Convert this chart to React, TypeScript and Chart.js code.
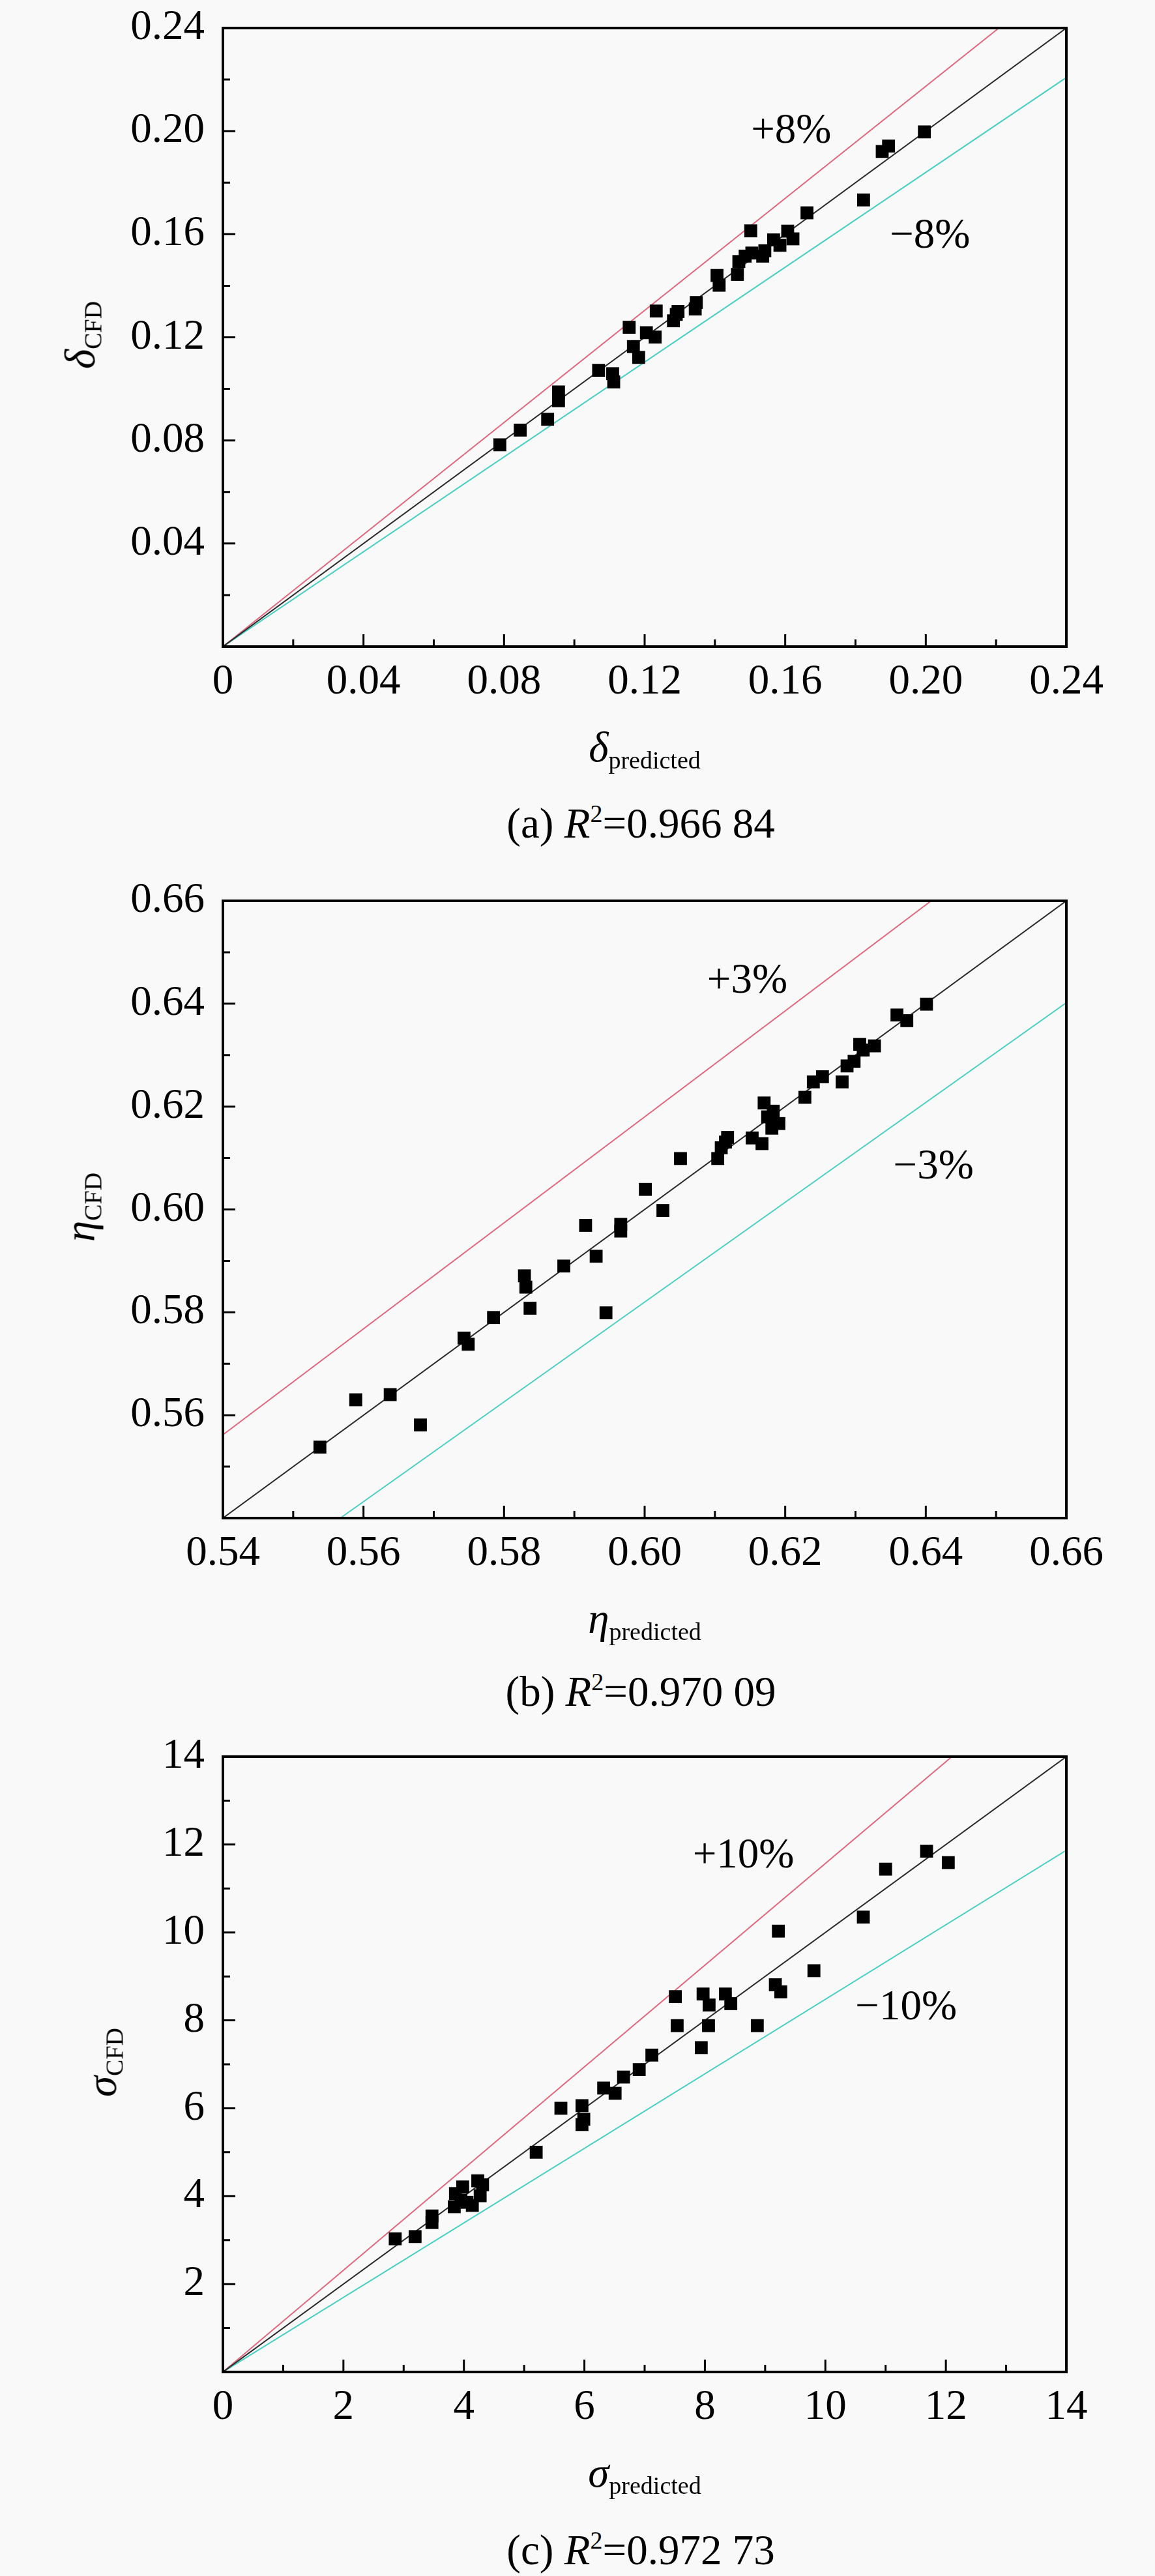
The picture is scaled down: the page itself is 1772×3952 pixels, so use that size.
import React, { useEffect, useRef } from "react";
import { Chart, registerables } from "chart.js";

Chart.register(...registerables);

// (a) film thickness delta
const deltaPredicted = [
  0.0788, 0.0846, 0.0924, 0.0955, 0.0955, 0.1069, 0.1109, 0.1112, 0.1156, 0.1168, 0.1183, 0.1205, 0.123,
  0.1233, 0.1282, 0.129, 0.1295, 0.1347, 0.1344, 0.1406, 0.1412, 0.1464, 0.1468, 0.1486, 0.1502, 0.1505,
  0.1536, 0.1542, 0.1567, 0.1585, 0.1607, 0.1622, 0.1662, 0.1823, 0.1876, 0.1894, 0.1996,
];
const deltaCFD = [
  0.0783, 0.084, 0.0882, 0.0988, 0.0954, 0.1072, 0.1059, 0.1027, 0.1239, 0.1164, 0.1122, 0.1218, 0.1201,
  0.1302, 0.1264, 0.1289, 0.13, 0.1335, 0.131, 0.144, 0.1402, 0.1444, 0.1494, 0.1515, 0.1613, 0.1527,
  0.1515, 0.1536, 0.1578, 0.1557, 0.1612, 0.1582, 0.1683, 0.1733, 0.1921, 0.1942, 0.1997,
];

// (b) efficiency eta
const etaPredicted = [
  0.5538, 0.5589, 0.5638, 0.5681, 0.5743, 0.5749, 0.5785, 0.5829, 0.5831, 0.5837, 0.5885, 0.5916, 0.5931,
  0.5945, 0.5966, 0.5966, 0.6001, 0.6026, 0.6051, 0.6104, 0.6109, 0.6115, 0.6118, 0.6153, 0.6167, 0.617,
  0.6175, 0.6183, 0.6181, 0.6191, 0.6228, 0.624, 0.6253, 0.6281, 0.6288, 0.6298, 0.6306, 0.6311, 0.6327,
  0.6359, 0.6373, 0.6401,
];
const etaCFD = [
  0.5538, 0.563, 0.564, 0.5581, 0.575, 0.5738, 0.579, 0.5871, 0.5849, 0.5808, 0.589, 0.5969, 0.5909,
  0.5799, 0.5971, 0.5958, 0.6039, 0.5998, 0.6099, 0.6099, 0.612, 0.6131, 0.614, 0.6139, 0.6128, 0.6207,
  0.618, 0.6191, 0.6158, 0.6167, 0.6218, 0.6248, 0.6258, 0.6248, 0.6279, 0.6288, 0.6321, 0.631, 0.6318,
  0.6378, 0.6367, 0.6399,
];

// (c) sigma
const sigmaPredicted = [
  2.86, 3.19, 3.47, 3.47, 3.84, 3.86, 3.95, 3.98, 4.05, 4.14, 4.23, 4.27, 4.31, 5.2, 5.61, 5.96, 5.96, 5.99,
  6.32, 6.51, 6.65, 6.91, 7.12, 7.51, 7.54, 7.94, 7.97, 8.06, 8.07, 8.34, 8.43, 8.87, 9.17, 9.26, 9.22, 9.81,
  10.63, 11.0, 11.68, 12.04,
];
const sigmaCFD = [
  3.03, 3.08, 3.55, 3.4, 3.76, 4.06, 3.91, 4.21, 3.86, 3.79, 4.35, 4.01, 4.26, 5.0, 6.0, 6.06, 5.63, 5.75,
  6.46, 6.34, 6.71, 6.88, 7.21, 8.54, 7.88, 7.38, 8.6, 7.88, 8.35, 8.6, 8.38, 7.88, 8.81, 8.65, 10.03, 9.13,
  10.35, 11.44, 11.85, 11.59,
];

const deltaTicks = [0, 0.04, 0.08, 0.12, 0.16, 0.2, 0.24];
const etaTicks = [0.54, 0.56, 0.58, 0.6, 0.62, 0.64, 0.66];
const sigmaTicks = [0, 2, 4, 6, 8, 10, 12, 14];

const BG = "#f9f9f9";
const SERIF = "'Liberation Serif', 'Times New Roman', serif";
const W = 1772;
const PLOT_LEFT = 342;
const PLOT_RIGHT = 1636;
const PAD_TOP = 60;
const X_AXIS_H = 150;

type Panel = {
  letter: string;
  symbol: string;
  r2: string;
  xs: number[];
  ys: number[];
  ticks: number[];
  decimals: number;
  upper: number;
  lower: number;
  upperText: string;
  lowerText: string;
  upperAt: [number, number];
  lowerAt: [number, number];
  plotTop: number;
  plotHeight: number;
  yTitleBase: number;
  captionBase: number;
};

const panels: Panel[] = [
  {
    letter: "a", symbol: "δ", r2: "0.966 84",
    xs: deltaPredicted, ys: deltaCFD, ticks: deltaTicks, decimals: 2,
    upper: 1.087, lower: 0.92, upperText: "+8%", lowerText: "\u22128%",
    upperAt: [0.1617, 0.1997], lowerAt: [0.2012, 0.1591],
    plotTop: 36, plotHeight: 956, yTitleBase: 145, captionBase: 1285,
  },
  {
    letter: "b", symbol: "η", r2: "0.970 09",
    xs: etaPredicted, ys: etaCFD, ticks: etaTicks, decimals: 2,
    upper: 1.03, lower: 0.97, upperText: "+3%", lowerText: "\u22123%",
    upperAt: [0.6146, 0.6443], lowerAt: [0.6411, 0.6082],
    plotTop: 1375, plotHeight: 954, yTitleBase: 145, captionBase: 2617,
  },
  {
    letter: "c", symbol: "σ", r2: "0.972 73",
    xs: sigmaPredicted, ys: sigmaCFD, ticks: sigmaTicks, decimals: 0,
    upper: 1.157, lower: 0.848, upperText: "+10%", lowerText: "\u221210%",
    upperAt: [8.64, 11.73], lowerAt: [11.34, 8.28],
    plotTop: 2688, plotHeight: 951, yTitleBase: 178, captionBase: 3934,
  },
];

// segment of y = s*x that lies inside the square [min, max]^2
const slopeLine = (s: number, min: number, max: number) => {
  const x0 = Math.max(min, min / s);
  const x1 = Math.min(max, max / s);
  return [
    { x: x0, y: s * x0 },
    { x: x1, y: s * x1 },
  ];
};

const fmt = (v: number, d: number) => (v === 0 ? "0" : v.toFixed(d));

const ScatterPanel = ({ p }: { p: Panel }) => {
  const canvasRef = useRef<HTMLCanvasElement>(null);
  const canvasH = PAD_TOP + p.plotHeight + X_AXIS_H;
  const min = p.ticks[0];
  const max = p.ticks[p.ticks.length - 1];

  useEffect(() => {
    const framePlugin = {
      id: "frameTicksText",
      afterDatasetsDraw(chart: any) {
        const { ctx, chartArea: a, scales } = chart;
        ctx.save();
        // inward ticks on bottom and left axes
        ctx.strokeStyle = "#000";
        ctx.lineWidth = 3;
        const marks: [number, number][] = [];
        for (let i = 0; i < p.ticks.length; i++) {
          marks.push([p.ticks[i], 19]);
          if (i < p.ticks.length - 1) marks.push([(p.ticks[i] + p.ticks[i + 1]) / 2, 11]);
        }
        ctx.beginPath();
        marks.forEach(([v, len]) => {
          const px = scales.x.getPixelForValue(v);
          ctx.moveTo(px, a.bottom);
          ctx.lineTo(px, a.bottom - len);
          const py = scales.y.getPixelForValue(v);
          ctx.moveTo(a.left, py);
          ctx.lineTo(a.left + len, py);
        });
        ctx.stroke();
        // frame
        ctx.lineWidth = 4;
        ctx.strokeRect(a.left, a.top, a.right - a.left, a.bottom - a.top);
        // band labels
        ctx.fillStyle = "#000";
        ctx.font = `65px ${SERIF}`;
        ctx.textAlign = "center";
        ctx.textBaseline = "middle";
        ctx.fillText(p.upperText, scales.x.getPixelForValue(p.upperAt[0]), scales.y.getPixelForValue(p.upperAt[1]));
        ctx.fillText(p.lowerText, scales.x.getPixelForValue(p.lowerAt[0]), scales.y.getPixelForValue(p.lowerAt[1]));
        ctx.restore();
      },
    };

    const tickFont = { family: SERIF, size: 65 };
    const chart = new Chart(canvasRef.current!, {
      type: "scatter",
      data: {
        datasets: [
          {
            data: p.xs.map((x, i) => ({ x, y: p.ys[i] })),
            pointStyle: "rect",
            pointRadius: 14,
            backgroundColor: "#000",
            borderWidth: 0,
          },
          {
            data: slopeLine(1, min, max),
            showLine: true,
            pointRadius: 0,
            borderColor: "#2a2a2a",
            borderWidth: 2,
          },
          {
            data: slopeLine(p.upper, min, max),
            showLine: true,
            pointRadius: 0,
            borderColor: "#e0667c",
            borderWidth: 2,
          },
          {
            data: slopeLine(p.lower, min, max),
            showLine: true,
            pointRadius: 0,
            borderColor: "#4ccfc3",
            borderWidth: 2,
          },
        ],
      },
      options: {
        animation: false,
        responsive: false,
        devicePixelRatio: 1,
        layout: { padding: { top: PAD_TOP, right: W - PLOT_RIGHT, left: 0, bottom: 0 } },
        plugins: { legend: { display: false }, tooltip: { enabled: false } },
        scales: {
          x: {
            type: "linear",
            min,
            max,
            afterBuildTicks: (s: any) => {
              s.ticks = p.ticks.map((v) => ({ value: v }));
            },
            afterFit: (s: any) => {
              s.height = X_AXIS_H;
            },
            grid: { display: false, drawTicks: false },
            border: { display: false },
            ticks: {
              autoSkip: false,
              maxRotation: 0,
              padding: 16,
              color: "#000",
              font: tickFont,
              callback: (v: any) => fmt(Number(v), p.decimals),
            },
          },
          y: {
            type: "linear",
            min,
            max,
            afterBuildTicks: (s: any) => {
              s.ticks = p.ticks.map((v) => ({ value: v }));
            },
            afterFit: (s: any) => {
              s.width = PLOT_LEFT;
            },
            grid: { display: false, drawTicks: false },
            border: { display: false },
            ticks: {
              autoSkip: false,
              padding: 28,
              color: "#000",
              font: tickFont,
              callback: (v: any) => (Number(v) === min ? "" : fmt(Number(v), p.decimals)),
            },
          },
        },
      },
      plugins: [framePlugin],
    } as any);
    return () => {
      chart.destroy();
    };
  }, [p]);

  const plotBottom = p.plotTop + p.plotHeight;
  const midX = (PLOT_LEFT + PLOT_RIGHT) / 2;
  const sub = { fontSize: 38, lineHeight: "38px", position: "relative" as const, top: 11 };

  return (
    <>
      <canvas
        ref={canvasRef}
        width={W}
        height={canvasH}
        style={{ position: "absolute", left: 0, top: p.plotTop - PAD_TOP, width: W, height: canvasH }}
      />
      <div
        style={{
          position: "absolute",
          left: p.yTitleBase - 22,
          top: p.plotTop + p.plotHeight / 2,
          transform: "translate(-50%, -50%) rotate(-90deg)",
          whiteSpace: "nowrap",
          fontSize: 65,
          lineHeight: "65px",
        }}
      >
        <i>{p.symbol}</i>
        <span style={sub}>CFD</span>
      </div>
      <div
        style={{
          position: "absolute",
          left: midX,
          top: plotBottom + 176 - 54,
          transform: "translateX(-50%)",
          whiteSpace: "nowrap",
          fontSize: 65,
          lineHeight: "65px",
        }}
      >
        <i>{p.symbol}</i>
        <span style={sub}>predicted</span>
      </div>
      <div
        style={{
          position: "absolute",
          left: midX - 6,
          top: p.captionBase - 54,
          transform: "translateX(-50%)",
          whiteSpace: "nowrap",
          fontSize: 65,
          lineHeight: "65px",
        }}
      >
        ({p.letter}) <i>R</i>
        <span style={{ fontSize: 38, lineHeight: "38px", position: "relative", top: -24 }}>2</span>={p.r2}
      </div>
    </>
  );
};

export default function App() {
  useEffect(() => {
    document.body.style.margin = "0";
    document.body.style.background = BG;
  }, []);

  return (
    <div
      style={{
        position: "relative",
        width: W,
        height: 3952,
        background: BG,
        fontFamily: SERIF,
        color: "#000",
        overflow: "hidden",
      }}
    >
      {panels.map((p) => (
        <ScatterPanel key={p.letter} p={p} />
      ))}
    </div>
  );
}
